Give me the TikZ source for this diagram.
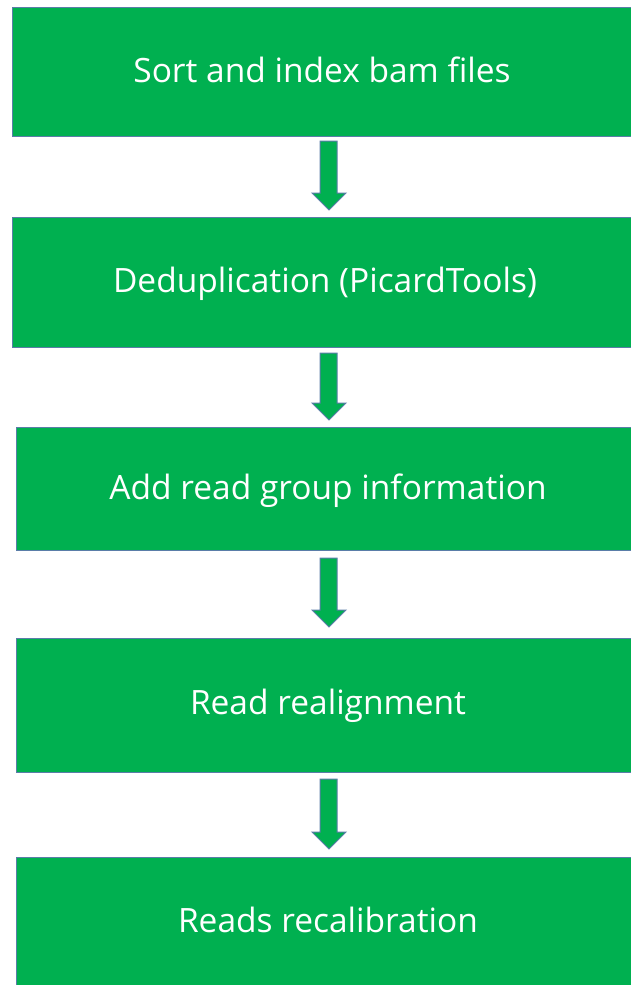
\documentclass[tikz,border=0pt]{standalone}
\usepackage{fontspec}
\setmainfont{Open Sans}
\definecolor{stepgreen}{HTML}{00B050}
\definecolor{stepedge}{HTML}{5A7DA8}
\tikzset{
  x=1pt, y=-1pt,
  stepbox/.style={draw=stepedge, line width=1.2pt, fill=stepgreen,
    anchor=north west, inner sep=0pt},
  steplabel/.style={text=white, font=\fontsize{33.5}{38}\selectfont,
    inner sep=0pt, anchor=base},
  blockarrow/.style={draw=stepedge, line width=1pt, fill=stepgreen, line join=miter}
}
\newcommand{\downarrowblock}[2]{%
  \draw[blockarrow] (320,#1) -- (337,#1) -- (337,{#2-17}) -- (346,{#2-17})
    -- (329,#2) -- (312,{#2-17}) -- (320,{#2-17}) -- cycle;}
\begin{document}
\begin{tikzpicture}
\useasboundingbox (0,0) rectangle (630,985);
\node[stepbox, minimum width=640pt, minimum height=129pt] (b1) at (11.5,7) {};
\node[steplabel] (t1) at (322,82) {Sort and index bam files};
\node[stepbox, minimum width=640pt, minimum height=130pt] (b2) at (11.5,217) {};
\node[steplabel] (t2) at (325,292) {Deduplication (PicardTools)};
\node[stepbox, minimum width=640pt, minimum height=123pt] (b3) at (16,427) {};
\node[steplabel] (t3) at (328,499) {Add read group information};
\node[stepbox, minimum width=640pt, minimum height=134pt] (b4) at (16,638) {};
\node[steplabel] (t4) at (328,714) {Read realignment};
\node[stepbox, minimum width=640pt, minimum height=160pt] (b5) at (16,857) {};
\node[steplabel] (t5) at (328,932) {Reads recalibration};
% block arrows between consecutive steps
\downarrowblock{141}{210}
\downarrowblock{353}{420}
\downarrowblock{558}{627}
\downarrowblock{779}{849}
\end{tikzpicture}
\end{document}
